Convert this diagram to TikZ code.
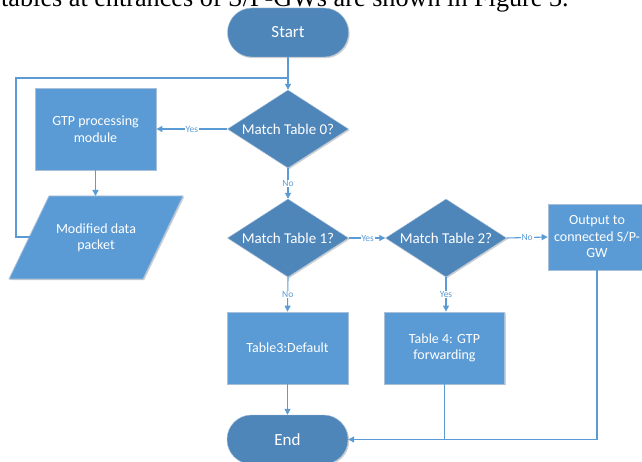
\documentclass[tikz,border=0pt]{standalone}
\usepackage{fontspec}
\setmainfont{Carlito}
\newfontfamily\capserif{Liberation Serif}
\usetikzlibrary{shapes.geometric,arrows.meta,shadows}
\definecolor{darkfill}{HTML}{4E86BA}
\definecolor{boxfill}{HTML}{5B9BD5}
\definecolor{linec}{HTML}{5B9BD5}
\definecolor{edgec}{HTML}{A9C0DA}
\tikzset{
  shade/.style={drop shadow={shadow xshift=1.2pt,shadow yshift=-1.2pt,opacity=0.18,fill=black}},
  terminal/.style={rectangle,rounded corners=24.4pt,fill=darkfill,draw=edgec,line width=0.4pt,
     minimum width=121pt,minimum height=49pt,inner sep=0pt,text=white,font=\fontsize{17}{19}\selectfont,shade},
  decision/.style={diamond,aspect=1.57,fill=darkfill,draw=edgec,line width=0.4pt,
     minimum width=121pt,minimum height=78pt,inner sep=0pt,text=white,font=\fontsize{15}{17}\selectfont,shade},
  procbox/.style={rectangle,fill=boxfill,draw=edgec,line width=0.8pt,inner sep=0pt,text=white,
     align=center,font=\fontsize{14}{16.5}\selectfont,shade},
  conn/.style={draw=linec,line width=1.1pt,-{Triangle[length=6pt,width=6pt]}},
  plain/.style={draw=linec,line width=1.1pt},
  lbl/.style={fill=white,text=linec,inner sep=0.8pt,font=\fontsize{9.5}{10}\selectfont}
}
\begin{document}
\begin{tikzpicture}[x=1pt,y=-1pt]
\useasboundingbox (0,0) rectangle (642,462);
\clip (0,0) rectangle (642,462);
% caption fragment
\node[anchor=base west,inner sep=0pt,font=\capserif\fontsize{26.2}{28}\selectfont] (cap) at (1,6.5)
  {tables at entrances of S/P-GWs are shown in Figure 3.};
% nodes
\node[terminal] (start) at (288,32.5) {Start};
\node[decision] (d0) at (288,129) {Match Table 0?};
\node[procbox,minimum width=121pt,minimum height=82pt] (gtp) at (95.5,129) {GTP processing\\module};
\fill[boxfill,draw=edgec,line width=0.8pt,drop shadow={shadow xshift=1.2pt,shadow yshift=-1.2pt,opacity=0.18,fill=black}]
  (49,196) -- (183,196) -- (143,279) -- (9,279) -- cycle;
\node[text=white,align=center,font=\fontsize{14}{16.5}\selectfont] (mod) at (96,238) {Modified data\\packet};
\coordinate (modtop) at (95.5,196);
\coordinate (modleft) at (30,237);
\node[decision] (d1) at (288,238) {Match Table 1?};
\node[decision] (d2) at (446,238) {Match Table 2?};
\node[procbox,minimum width=98pt,minimum height=66pt] (out) at (597,237) {Output to\\connected S/P-\\GW};
\node[procbox,minimum width=121pt,minimum height=72pt] (t3) at (287.5,348) {Table3:Default};
\node[procbox,minimum width=120pt,minimum height=72pt] (t4) at (444.5,348) {Table 4: GTP\\forwarding};
\node[terminal] (end) at (287.5,439.5) {End};
% junction coordinates
\coordinate (jtop) at (288,78);
\coordinate (jleft) at (16,78);
\coordinate (jbl) at (16,237);
\coordinate (jout) at (597,439.5);
\coordinate (jt4) at (444.5,439.5);
% connectors
\draw[plain] (start.south) -- (jtop);
\draw[conn] (jtop) -- (d0.north);
\draw[plain] (modleft) -- (jbl) -- (jleft) -- (jtop);
\draw[conn] (d0.west) -- node[lbl,pos=0.5] {Yes} (gtp.east);
\draw[conn] (gtp.south) -- (modtop);
\draw[conn] (d0.south) -- node[lbl,pos=0.5] {No} (d1.north);
\draw[conn] (d1.east) -- node[lbl,pos=0.52] {Yes} (d2.west);
\draw[conn] (d2.east) -- node[lbl,pos=0.5] {No} (out.west);
\draw[conn] (d1.south) -- node[lbl,pos=0.5] {No} (t3.north);
\draw[conn] (d2.south |- d2.south) -- node[lbl,pos=0.5] {Yes} (d2.south |- t4.north);
\draw[conn] (t3.south) -- (end.north);
\draw[plain] (out.south) -- (jout);
\draw[plain] (t4.south) -- (jt4);
\draw[conn] (jout) -- (end.east);
\end{tikzpicture}
\end{document}
